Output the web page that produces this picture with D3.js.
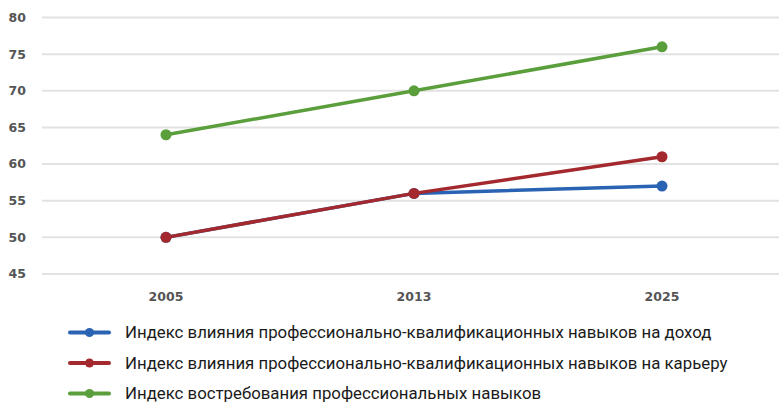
<!DOCTYPE html>
<html><head><meta charset="utf-8">
<script src="https://cdn.jsdelivr.net/npm/d3@7"></script>
<style>body{margin:0;background:#fff}svg{display:block}</style>
</head><body>
<svg id="c" width="779" height="404"></svg>
<script>
const years = ["2005", "2013", "2025"];
const incomeIndex = [50, 56, 57];
const careerIndex = [50, 56, 61];
const demandIndex = [64, 70, 76];
const yTicks = [45, 50, 55, 60, 65, 70, 75, 80];
const seriesNames = [
  "Индекс влияния профессионально-квалификационных навыков на доход",
  "Индекс влияния профессионально-квалификационных навыков на карьеру",
  "Индекс востребования профессиональных навыков"
];
const colors = ["#2a63b3", "#a3292e", "#5b9e3c"];
const seriesData = [incomeIndex, careerIndex, demandIndex];

const svg = d3.select("#c");
const x = d3.scalePoint().domain(years).range([42, 786]).padding(0.5);
const y = d3.scaleLinear().domain([45, 80]).range([274, 17.5]);

svg.append("g").selectAll("line").data(yTicks).join("line")
  .attr("x1", 42).attr("x2", 779)
  .attr("y1", d => y(d)).attr("y2", d => y(d))
  .attr("stroke", "#e2e2e2").attr("stroke-width", 2);

svg.append("g").selectAll("text").data(yTicks).join("text")
  .attr("x", 26).attr("y", d => y(d)).attr("dy", "0.35em")
  .attr("text-anchor", "end")
  .attr("font-family", "DejaVu Sans").attr("font-weight", "bold")
  .attr("font-size", 12.5).attr("fill", "#555").text(d => d);

svg.append("g").selectAll("text").data(years).join("text")
  .attr("x", d => x(d)).attr("y", 297).attr("dy", "0.35em")
  .attr("text-anchor", "middle")
  .attr("font-family", "DejaVu Sans").attr("font-weight", "bold")
  .attr("font-size", 12.5).attr("fill", "#555").text(d => d);

const line = d3.line().x((d, i) => x(years[i])).y(d => y(d));
seriesData.forEach((s, k) => {
  const g = svg.append("g");
  g.append("path").attr("d", line(s)).attr("fill", "none")
    .attr("stroke", colors[k]).attr("stroke-width", 3.5);
  g.selectAll("circle").data(s).join("circle")
    .attr("cx", (d, i) => x(years[i])).attr("cy", d => y(d))
    .attr("r", 5.5).attr("fill", colors[k]);
});

const legY = [332.5, 363, 393.5];
seriesNames.forEach((name, k) => {
  const g = svg.append("g");
  g.append("line").attr("x1", 70).attr("x2", 109)
    .attr("y1", legY[k]).attr("y2", legY[k])
    .attr("stroke", colors[k]).attr("stroke-width", 4).attr("stroke-linecap", "round");
  g.append("circle").attr("cx", 89.5).attr("cy", legY[k]).attr("r", 4.5).attr("fill", colors[k]);
  g.append("text").attr("x", 125).attr("y", legY[k]).attr("dy", "0.35em")
    .attr("font-family", "Roboto").attr("font-size", 16.8).attr("fill", "#1a1a1a").text(name);
});
</script>
</body></html>
